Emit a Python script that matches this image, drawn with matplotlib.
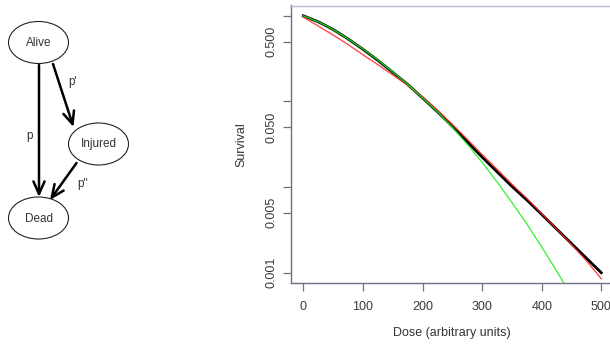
import matplotlib
matplotlib.use("Agg")
import matplotlib.pyplot as plt
from matplotlib.patches import Ellipse

plt.rcParams['font.family'] = ['Liberation Sans', 'DejaVu Sans']

# ---- data ----
dose = [0, 25, 50, 75, 100, 125, 150, 175, 200, 225, 250, 275, 300, 325, 350,
        375, 400, 425, 450, 475, 500]
surv_black = [1.000, 0.851, 0.692, 0.537, 0.407, 0.302, 0.219, 0.158, 0.110,
              0.0759, 0.0513, 0.0339, 0.0224, 0.0151, 0.0102, 0.00708,
              0.00479, 0.00324, 0.00219, 0.00148, 0.00100]
surv_red = [0.966, 0.759, 0.596, 0.462, 0.351, 0.269, 0.204, 0.155, 0.113,
            0.0795, 0.0540, 0.0362, 0.0240, 0.0162, 0.0108, 0.00735,
            0.00490, 0.00324, 0.00214, 0.00138, 0.000851]
dose_green = [0, 25, 50, 75, 100, 125, 150, 175, 200, 225, 250, 275, 300, 325,
              350, 375, 400, 425, 450]
surv_green = [1.000, 0.851, 0.692, 0.537, 0.410, 0.305, 0.221, 0.158, 0.110,
              0.0759, 0.0501, 0.0316, 0.0195, 0.0115, 0.00661, 0.00372,
              0.00200, 0.00105, 0.000537]

xticks = [0, 100, 200, 300, 400, 500]
yticks = [1.0, 0.5, 0.1, 0.05, 0.01, 0.005, 0.001]
ytick_labels = ["", "0.500", "", "0.050", "", "0.005", "0.001"]

states = ["Alive", "Injured", "Dead"]
transitions = ["p", "p'", "p''"]

W, H = 610, 348
fig = plt.figure(figsize=(W / 100, H / 100), dpi=100)

# ---- diagram (pixel coordinates) ----
dax = fig.add_axes([0, 0, 1, 1])
dax.set_xlim(0, W)
dax.set_ylim(H, 0)
dax.axis('off')

centers = {"Alive": (38.5, 42.5), "Injured": (98.5, 144.0), "Dead": (38.5, 218.0)}
for s in states:
    cx, cy = centers[s]
    dax.add_patch(Ellipse((cx, cy), 60, 42, facecolor='white',
                          edgecolor='#222222', lw=0.8))
    dax.text(cx, cy + 0.5, s, ha='center', va='center', fontsize=8.5,
             color='#333333')

arrows = [((39, 65), (39, 197)), ((53, 64), (73.5, 127)), ((76.5, 163), (50, 200))]
for (x0, y0), (x1, y1) in arrows:
    dax.annotate("", xy=(x1, y1), xytext=(x0, y0),
                 arrowprops=dict(arrowstyle="->,head_length=0.9,head_width=0.4",
                                 lw=1.8, color='black', shrinkA=0, shrinkB=0))
label_pos = [(29.5, 136.5), (72.5, 81.5), (82.5, 183.5)]
for lab, (lx, ly) in zip(transitions, label_pos):
    dax.text(lx, ly, lab, ha='center', va='center', fontsize=8.5, color='#333333')

# ---- survival plot ----
left_px, right_px, top_px, bot_px = 291.4, 613.2, 5.5, 283.0
ax = fig.add_axes([left_px / W, 1 - bot_px / H, (right_px - left_px) / W,
                   (bot_px - top_px) / H])
ax.set_yscale('log')
ax.plot(dose, surv_black, color='black', lw=2.0, zorder=3)
ax.plot(dose, surv_red, color='#ff2020', lw=1.0, zorder=4, alpha=0.8)
ax.plot(dose_green, surv_green, color='#20ee20', lw=1.0, zorder=5, alpha=0.85)

ax.set_xlim(-20, 520)
ax.set_ylim(10 ** -3.12, 10 ** 0.12)
ax.set_xticks(xticks)
ax.set_xticklabels([str(v) for v in xticks])
ax.set_yticks(yticks)
ax.set_yticklabels(ytick_labels, rotation=90, va='center')
ax.minorticks_off()
ax.tick_params(axis='both', length=6, width=0.9, color='#707080',
               labelsize=9, labelcolor='#3a3a3a', direction='out')
ax.tick_params(axis='x', pad=7)
ax.tick_params(axis='y', pad=4)
for sp in ['top', 'right']:
    ax.spines[sp].set_color('#b8b8d0')
    ax.spines[sp].set_linewidth(1.0)
for sp in ['left', 'bottom']:
    ax.spines[sp].set_color('#707080')
    ax.spines[sp].set_linewidth(1.0)

ax.set_xlabel("Dose (arbitrary units)", fontsize=9, color='#333333', labelpad=10)
ax.set_ylabel("Survival", fontsize=9, color='#333333', labelpad=13)

fig.savefig("out.png", dpi=100)
